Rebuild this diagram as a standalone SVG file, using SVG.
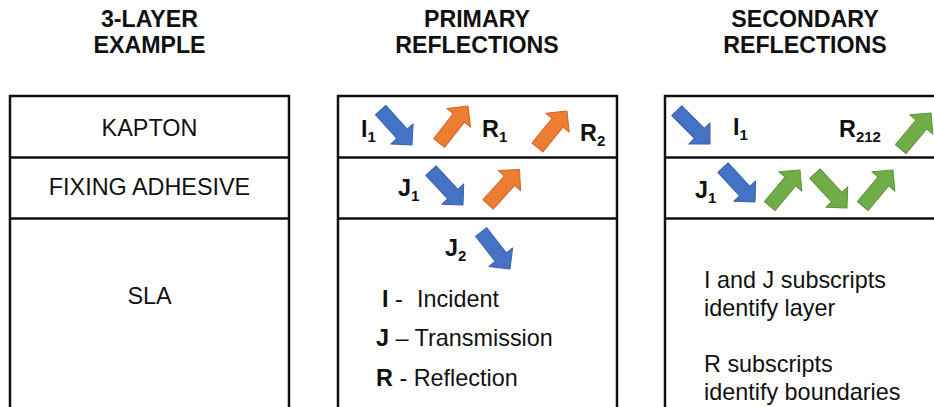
<svg xmlns="http://www.w3.org/2000/svg" xmlns:xlink="http://www.w3.org/1999/xlink" width="934" height="407" viewBox="0 0 934 407">
  <style>
    text { font-family: "Liberation Sans", Arial, sans-serif; font-size: 23.4px; fill: #111; }
    .title { font-weight: bold; text-anchor: middle; font-size: 23.2px; }
    .mid { text-anchor: middle; }
    .b { font-weight: bold; }
    .sub { font-size: 15px; font-weight: bold; }
    .frame { fill: none; stroke: #111; stroke-width: 2.5; }
    .blue { fill: #4472C4; stroke: #3A62A8; stroke-width: 1; }
    .orange { fill: #ED7D31; stroke: #C9682A; stroke-width: 1; }
    .green { fill: #70AD47; stroke: #5E923B; stroke-width: 1; }
  </style>
  <defs>
    <!-- block arrow, tip at the origin, pointing along +x -->
    <polygon id="arrow" points="-47,-7 -15,-7 -15,-15 0,0 -15,15 -15,7 -47,7" stroke-linejoin="round"/>
  </defs>

  <rect width="934" height="407" fill="#fff"/>

  <!-- left column: layer stack -->
  <g id="layers">
    <text class="title" x="149.5" y="26.5">3-LAYER</text>
    <text class="title" x="149.5" y="53">EXAMPLE</text>
    <path class="frame" d="M10,412 V96 H289 V412 M10,157.5 H289 M10,218.5 H289"/>
    <text class="mid" x="149.5" y="136">KAPTON</text>
    <text class="mid" x="149.5" y="195">FIXING ADHESIVE</text>
    <text class="mid" x="149.5" y="303.5">SLA</text>
  </g>

  <!-- middle column: primary reflections -->
  <g id="primary">
    <text class="title" x="477" y="26.5">PRIMARY</text>
    <text class="title" x="477" y="53">REFLECTIONS</text>
    <path class="frame" d="M338,412 V96 H617 V412 M338,157.5 H617 M338,218.5 H617"/>
    <text class="b" x="361" y="137">I<tspan class="sub" dy="5">1</tspan></text>
    <text class="b" x="482" y="137">R<tspan class="sub" dy="5">1</tspan></text>
    <text class="b" x="580" y="141">R<tspan class="sub" dy="5">2</tspan></text>
    <text class="b" x="398" y="196">J<tspan class="sub" dy="5">1</tspan></text>
    <text class="b" x="445" y="256">J<tspan class="sub" dy="5">2</tspan></text>
    <text x="382" y="307"><tspan class="b">I</tspan> - <tspan x="417">Incident</tspan></text>
    <text x="376" y="346"><tspan class="b">J</tspan> – Transmission</text>
    <text x="376" y="385.5"><tspan class="b">R</tspan> - Reflection</text>
  </g>

  <!-- right column: secondary reflections -->
  <g id="secondary">
    <text class="title" x="805" y="26.5">SECONDARY</text>
    <text class="title" x="805" y="53">REFLECTIONS</text>
    <path class="frame" d="M665,412 V96 H940 M665,157.5 H940 M665,218.5 H940"/>
    <text class="b" x="733" y="135">I<tspan class="sub" dy="5">1</tspan></text>
    <text class="b" x="839" y="137">R<tspan class="sub" dy="5">212</tspan></text>
    <text class="b" x="695" y="198">J<tspan class="sub" dy="5">1</tspan></text>
    <text x="704" y="288">I and J subscripts</text>
    <text x="704" y="316">identify layer</text>
    <text x="704" y="372">R subscripts</text>
    <text x="704" y="400">identify boundaries</text>
  </g>

  <!-- ray arrows -->
  <g id="rays">
    <use xlink:href="#arrow" class="blue" transform="translate(412,145) rotate(48)"/>
    <use xlink:href="#arrow" class="orange" transform="translate(468,106) rotate(-52)"/>
    <use xlink:href="#arrow" class="orange" transform="translate(567,111) rotate(-51)"/>
    <use xlink:href="#arrow" class="blue" transform="translate(463,205) rotate(47)"/>
    <use xlink:href="#arrow" class="orange" transform="translate(519.5,169.5) rotate(-48)"/>
    <use xlink:href="#arrow" class="blue" transform="translate(510,269) rotate(52)"/>

    <use xlink:href="#arrow" class="blue" transform="translate(710,144) rotate(45)"/>
    <use xlink:href="#arrow" class="green" transform="translate(931,113) rotate(-50)"/>
    <use xlink:href="#arrow" class="blue" transform="translate(755,202) rotate(47)"/>
    <use xlink:href="#arrow" class="green" transform="translate(800,170) rotate(-50)"/>
    <use xlink:href="#arrow" class="green" transform="translate(847,208) rotate(47)"/>
    <use xlink:href="#arrow" class="green" transform="translate(893,170) rotate(-50)"/>
  </g>
</svg>
